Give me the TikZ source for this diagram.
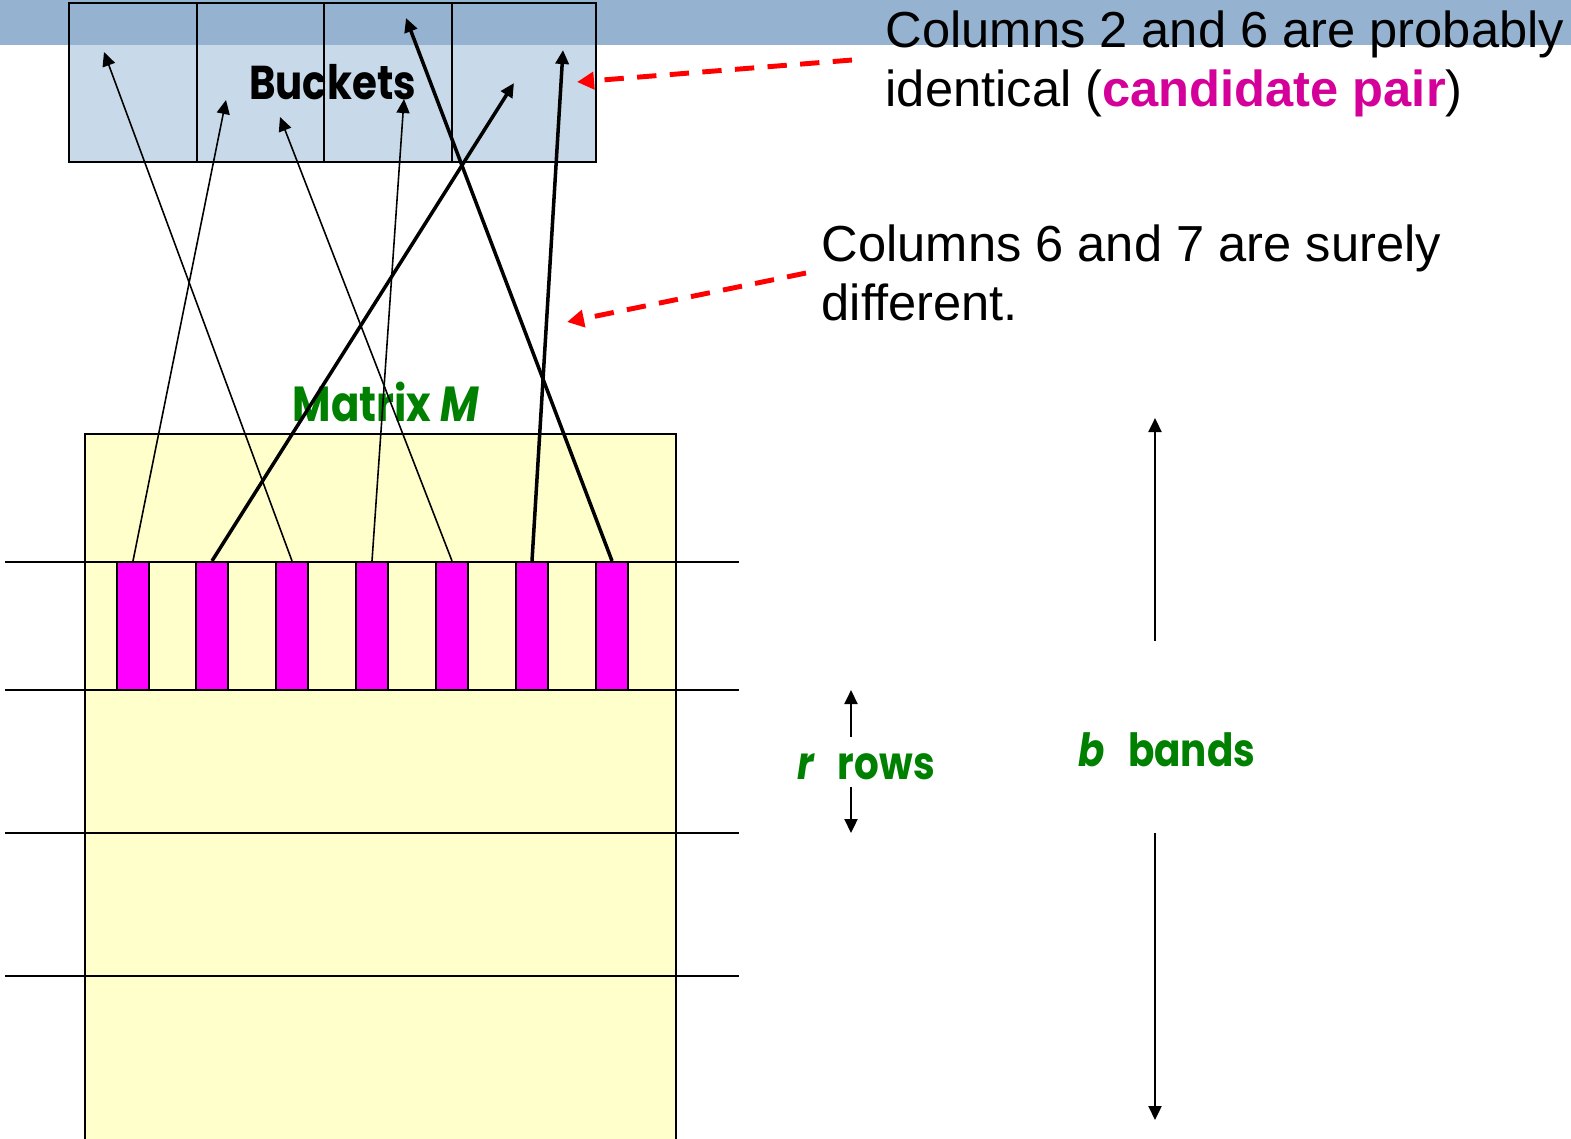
\documentclass[tikz,border=0pt]{standalone}
\usepackage{fontspec}
\setmainfont{Liberation Sans}
\newfontfamily\gothic[FakeStretch=0.85]{Poppins}
\usetikzlibrary{arrows.meta, positioning}
\definecolor{stripblue}{HTML}{95B3D1}
\definecolor{bucketblue}{HTML}{C8DAE9}
\definecolor{matrixyellow}{HTML}{FFFFCC}
\definecolor{barpink}{HTML}{FF00FF}
\definecolor{candpink}{HTML}{D4009A}
\definecolor{labelgreen}{HTML}{008000}

\begin{document}
\begin{tikzpicture}[
            x=0.01cm, y=-0.01cm,
            >={Triangle[length=0.14cm, width=0.13cm]},
            % pixel grid of the slide: x to the right, y downwards
            box/.style    ={draw, line width=0.6pt},
            bandline/.style={line width=0.5pt},
            colbar/.style ={draw, fill=barpink, line width=0.6pt,
                            minimum width=0.32cm, minimum height=1.28cm, inner sep=0pt},
            thinlink/.style={->, line width=0.45pt},
            thicklink/.style={->, line width=1.0pt},
            hint/.style   ={-{Triangle[length=0.17cm, width=0.17cm]}, draw=red,
                            line width=1.4pt, dash pattern=on 5.5pt off 3.8pt},
            % base anchor of a two-line note = baseline of its last line
            note/.style   ={font=\fontsize{14.4}{16.6}\selectfont, align=left,
                            inner sep=0pt, anchor=base west},
            glabel/.style ={font=\gothic\bfseries\fontsize{13}{15}\selectfont,
                            text=labelgreen, inner sep=0pt}
        ]
        \useasboundingbox (0,0) rectangle (1571,1138);

        %% ===== Buckets =====
        \fill[bucketblue] (69,3) rectangle (596,162);
        \fill[stripblue] (0,0) rectangle (1571,45);
        \node[box, minimum width=5.27cm, minimum height=1.59cm, inner sep=0pt,
              font=\gothic\bfseries\fontsize{13.5}{16}\selectfont] (buckets) at (332.5,82.5) {Buckets};
        \foreach \x in {197,324,452}
            \draw[box] (\x,3) -- (\x,162);

        %% ===== Matrix M with one band =====
        \draw[box, fill=matrixyellow] (85,434) rectangle (676,1145);
        \node[glabel, font=\gothic\bfseries\fontsize{14}{16}\selectfont] (mlabel) at (386,402) {Matrix \textit{M}};
        \foreach \y in {562,690,833,976}
            \draw[bandline] (5,\y) -- (739,\y);
        \foreach \x [count=\i] in {133,212,292,372,452,532,612}
            \node[colbar] (c\i) at (\x,626) {};

        %% ===== hashing a band's columns to buckets =====
        \foreach \i/\tx/\ty/\w in {1/226/100/thinlink, 2/514/83/thicklink,
                3/104/52/thinlink, 4/404/99/thinlink, 5/280/117/thinlink,
                6/563/50/thicklink, 7/406/18/thicklink} {
            \coordinate (t\i) at (\tx,\ty);
            \draw[\w] (c\i.north) -- (t\i);
        }

        %% ===== notes =====
        \node[note] (probnote) at (885,106)
            {Columns 2 and 6 are probably\\identical (\textcolor{candpink}{\bfseries candidate pair})};
        \node[note] (surenote) at (821,320) {Columns 6 and 7 are surely\\different.};
        \coordinate (h1s) at (852,60);  \coordinate (h1e) at (577,82);
        \coordinate (h2s) at (806,273); \coordinate (h2e) at (567,322);
        \draw[hint] (h1s) -- (h1e);
        \draw[hint] (h2s) -- (h2e);

        %% ===== r rows, b bands =====
        \node[glabel] (rrows) at (866,767) {\textit{r}\hspace{0.5em}rows};
        \coordinate (r1) at (851,737); \coordinate (r1e) at (851,690);
        \coordinate (r2) at (851,787); \coordinate (r2e) at (851,833);
        \draw[->, line width=0.6pt] (r1) -- (r1e);
        \draw[->, line width=0.6pt] (r2) -- (r2e);

        \node[glabel] (bbands) at (1167,750) {\textit{b}\hspace{0.5em}bands};
        \coordinate (b1) at (1155,641); \coordinate (b1e) at (1155,418);
        \coordinate (b2) at (1155,833); \coordinate (b2e) at (1155,1120);
        \draw[->, line width=0.6pt] (b1) -- (b1e);
        \draw[->, line width=0.6pt] (b2) -- (b2e);

    \end{tikzpicture}
\end{document}
